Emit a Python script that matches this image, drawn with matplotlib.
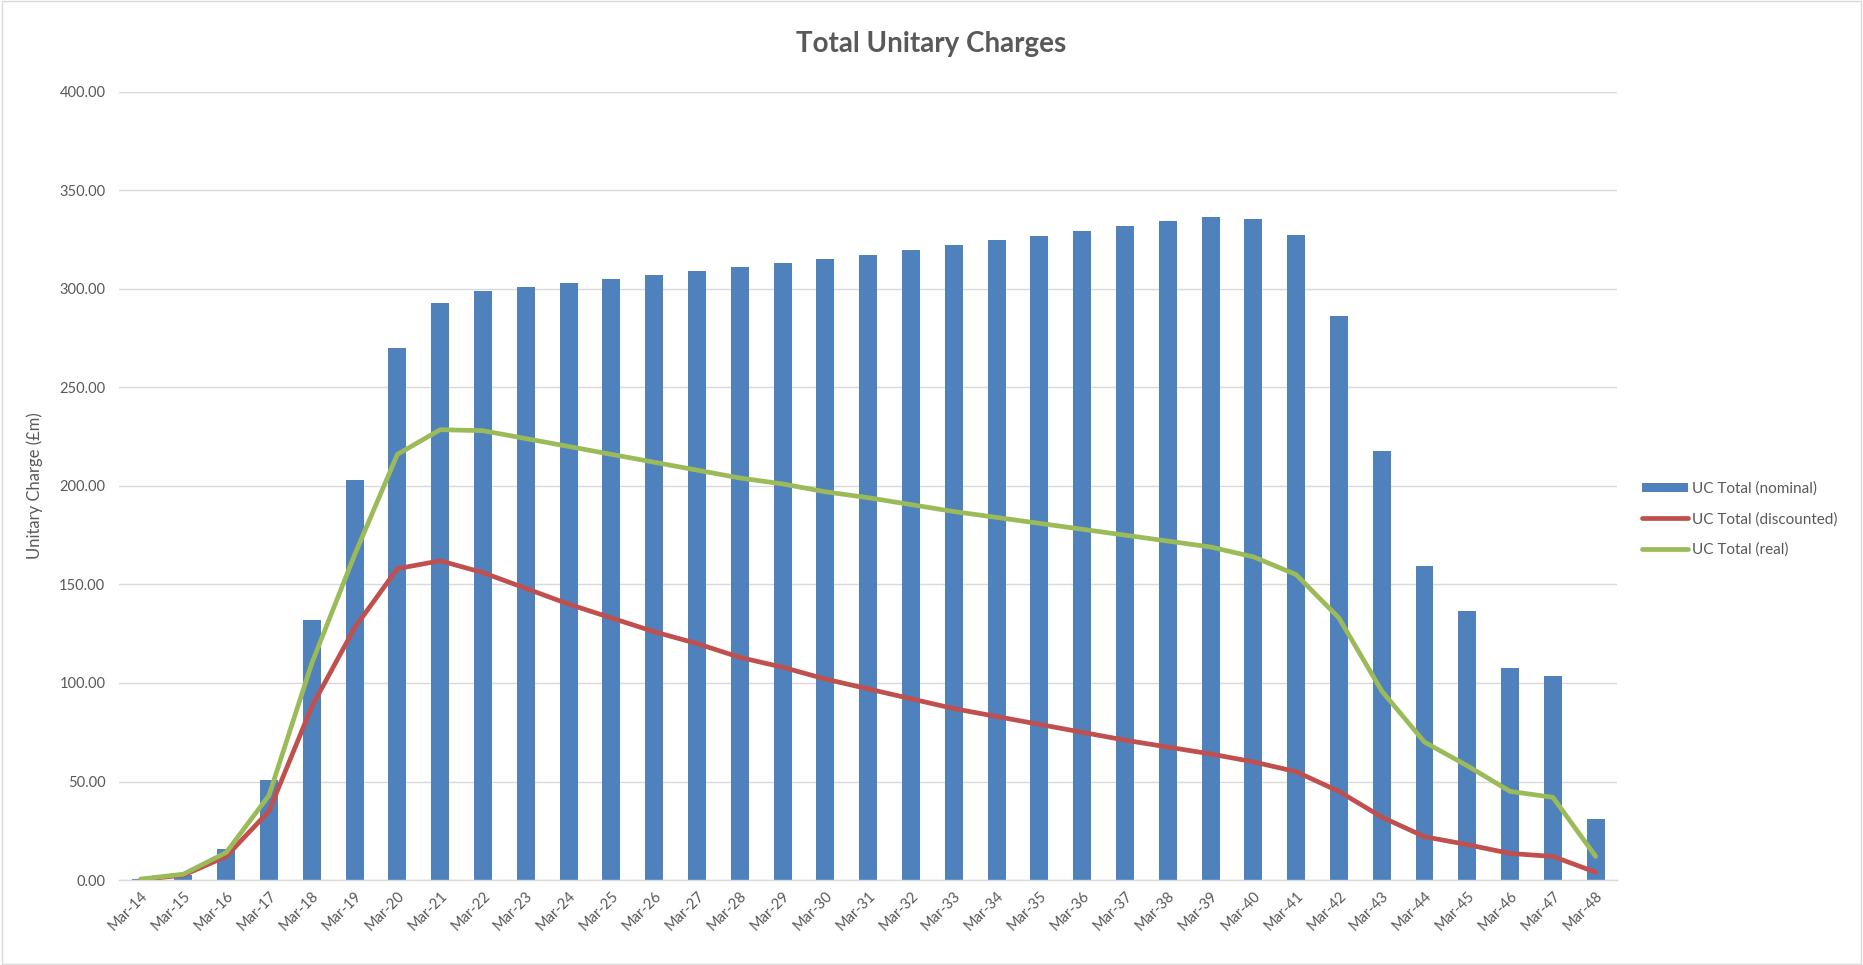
import matplotlib
matplotlib.use("Agg")
import matplotlib.pyplot as plt
from matplotlib.patches import Rectangle

# ---- data ------------------------------------------------------------------
years = ["Mar-%02d" % y for y in range(14, 49)]

uc_nominal = [0.5, 2.5, 16, 51, 132, 203, 270, 293, 299, 301,
              303, 305, 307, 309, 311, 313, 315, 317, 319.5, 322,
              324.5, 327, 329.5, 332, 334.5, 336.5, 335.5, 327.5, 286, 217.5,
              159.5, 136.5, 107.5, 103.5, 31]

uc_discounted = [0.3, 2.5, 12, 35, 88, 128, 158, 162, 156, 148,
                 140, 133, 126, 120, 113, 108, 102, 97, 92, 87,
                 83, 79, 75, 71, 67.5, 64, 60, 55, 45, 32,
                 22, 18, 13.5, 12, 4]

uc_real = [0.5, 3, 14, 43, 110, 165, 216, 228.5, 228, 224,
           220, 216, 212, 208, 204, 201, 197, 194, 190.5, 187,
           184, 181, 178, 175, 172, 169, 164, 155, 133, 96,
           70, 58, 45, 42, 12]

yticks = [0, 50, 100, 150, 200, 250, 300, 350, 400]

# ---- style -----------------------------------------------------------------
plt.rcParams["font.family"] = ["Lato", "DejaVu Sans"]
grey_txt = "#595959"

fig = plt.figure(figsize=(18.63, 9.65), dpi=100)
ax = fig.add_axes([0.064, 0.088, 0.804, 0.817])

x = list(range(len(years)))
bars = ax.bar(x, uc_nominal, width=0.42, color="#4F81BD",
              label="UC Total (nominal)", zorder=2)
l_disc, = ax.plot(x, uc_discounted, color="#C0504D", lw=3.4,
                  label="UC Total (discounted)", solid_capstyle="round",
                  solid_joinstyle="round", zorder=3)
l_real, = ax.plot(x, uc_real, color="#9BBB59", lw=3.4,
                  label="UC Total (real)", solid_capstyle="round",
                  solid_joinstyle="round", zorder=4)

ax.set_xlim(-0.5, len(years) - 0.5)
ax.set_ylim(0, 400)
ax.set_yticks(yticks)
ax.set_yticklabels(["%.2f" % v for v in yticks])
ax.set_xticks(x)
ax.set_xticklabels(years, rotation=45, ha="right", rotation_mode="anchor")

ax.grid(axis="y", color="#D9D9D9", lw=1.0, zorder=0)
ax.set_axisbelow(True)
for s in ["top", "right", "left"]:
    ax.spines[s].set_visible(False)
ax.spines["bottom"].set_color("#D9D9D9")
ax.spines["bottom"].set_linewidth(1.0)
ax.tick_params(axis="both", length=0, colors=grey_txt, labelsize=10.5)
ax.tick_params(axis="y", pad=10)
ax.tick_params(axis="x", pad=6)

ax.set_ylabel("Unitary Charge (£m)", color=grey_txt, fontsize=12, labelpad=12)

fig.text(0.5, 0.954, "Total Unitary Charges", ha="center", va="center",
         fontsize=20, fontweight="bold", color=grey_txt)

leg = fig.legend(handles=[bars, l_disc, l_real],
                 loc="center left", bbox_to_anchor=(0.874, 0.462),
                 frameon=False, fontsize=11, handlelength=3.0,
                 handleheight=0.55, handletextpad=0.25, labelspacing=1.05)
for t in leg.get_texts():
    t.set_color(grey_txt)

# thin chart-area border
fig.patches.append(Rectangle((0.001, 0.001), 0.998, 0.998,
                             transform=fig.transFigure, fill=False,
                             edgecolor="#D9D9D9", lw=1.0))

fig.savefig("out.png", dpi=100)
plt.close(fig)
